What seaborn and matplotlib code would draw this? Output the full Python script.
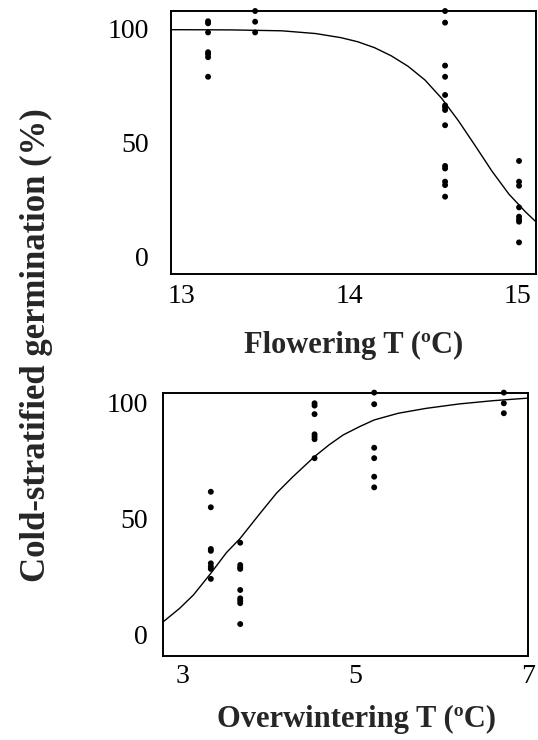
import pandas as pd
import matplotlib
matplotlib.use("Agg")
import matplotlib.pyplot as plt
import seaborn as sns

# Flowering temperature panel (top)
flower_temps = [13.16, 13.44, 14.57, 15.01]
flower_germ = [
    [103.4, 102.5, 98.5, 89.8, 88.9, 87.6, 79.0],
    [107.9, 103.2, 98.5],
    [107.9, 102.8, 83.9, 79.0, 71.0, 66.4, 65.6, 64.4, 57.7, 39.8, 38.7, 32.9, 31.4, 26.3],
    [42.0, 32.9, 31.1, 21.6, 17.5, 16.3, 15.3, 6.2],
]
flower_fit_x = [12.94, 13.3, 13.6, 13.8, 13.95, 14.05, 14.15, 14.25, 14.35, 14.45, 14.55,
                14.65, 14.75, 14.85, 14.95, 15.05, 15.11]
flower_fit_y = [99.7, 99.6, 99.2, 98.0, 96.2, 94.4, 91.8, 88.2, 83.6, 77.6, 69.5,
                59.6, 48.6, 37.4, 27.4, 19.5, 15.3]

# Overwintering temperature panel (bottom)
winter_temps = [3.33, 3.67, 4.53, 5.22, 6.72]
winter_germ = [
    [61.5, 54.8, 36.8, 36.0, 30.6, 29.2, 28.2, 23.9],
    [39.5, 29.9, 28.9, 28.2, 19.1, 15.5, 14.5, 13.4, 4.4],
    [99.7, 98.7, 95.0, 86.3, 85.3, 84.2, 76.0],
    [104.3, 99.3, 80.5, 76.0, 68.0, 63.4],
    [104.3, 99.7, 95.4],
]
winter_fit_x = [2.78, 2.97, 3.13, 3.33, 3.51, 3.67, 3.90, 4.09, 4.28, 4.53, 4.70, 4.86,
                5.05, 5.22, 5.50, 5.82, 6.20, 6.59, 6.99]
winter_fit_y = [5.4, 11.2, 17.0, 26.3, 35.2, 41.4, 52.2, 60.9, 68.0, 76.7, 81.8, 86.0,
                89.6, 92.5, 95.4, 97.5, 99.4, 100.8, 101.9]


def to_frame(temps, germ):
    rows = [(t, g) for t, vals in zip(temps, germ) for g in vals]
    return pd.DataFrame(rows, columns=["temp", "germ"])


df_flower = to_frame(flower_temps, flower_germ)
df_winter = to_frame(winter_temps, winter_germ)

sns.set_style("white")
plt.rcParams["font.family"] = ["Liberation Serif", "DejaVu Serif"]

fig = plt.figure(figsize=(5.38, 7.4), dpi=100)
ax1 = fig.add_axes([0.318, 0.6297, 0.678, 0.3554])
ax2 = fig.add_axes([0.3035, 0.1135, 0.678, 0.355])

sns.scatterplot(data=df_flower, x="temp", y="germ", ax=ax1, color="black",
                s=18, edgecolor="none", clip_on=False, zorder=3)
sns.lineplot(x=flower_fit_x, y=flower_fit_y, ax=ax1, color="black", lw=1.0)

sns.scatterplot(data=df_winter, x="temp", y="germ", ax=ax2, color="black",
                s=18, edgecolor="none", clip_on=False, zorder=3)
sns.lineplot(x=winter_fit_x, y=winter_fit_y, ax=ax2, color="black", lw=1.0)

ax1.set_xlim(12.94, 15.11)
ax1.set_ylim(-7.7, 107.9)
ax1.set_xticks([13, 14, 15])
ax1.set_yticks([0, 50, 100])
ax1.set_xlabel("Flowering T (ºC)", fontsize=22, fontweight="bold", labelpad=16)
ax1.set_ylabel("")
ax1.tick_params(axis="x", pad=7)
ax1.tick_params(axis="y", pad=16)

ax2.set_xlim(2.78, 6.995)
ax2.set_ylim(-9.4, 104.0)
ax2.set_xticks([3, 5, 7])
ax2.set_yticks([0, 50, 100])
ax2.set_xlabel("Overwintering T (ºC)", fontsize=22, fontweight="bold", labelpad=11)
ax2.xaxis.label.set_x(0.53)
ax2.set_ylabel("")
ax2.tick_params(axis="x", pad=6)
ax2.tick_params(axis="y", pad=11)

for ax in (ax1, ax2):
    ax.tick_params(direction="in", length=3, width=1, labelsize=20, colors="black")
    for sp in ax.spines.values():
        sp.set_color("black")
        sp.set_linewidth(1.4)

fig.text(36 / 538, 1 - 345 / 740, "Cold-stratified germination (%)", rotation=90,
         ha="center", va="center", fontsize=25, fontweight="bold")

plt.savefig("out.png", dpi=100)
